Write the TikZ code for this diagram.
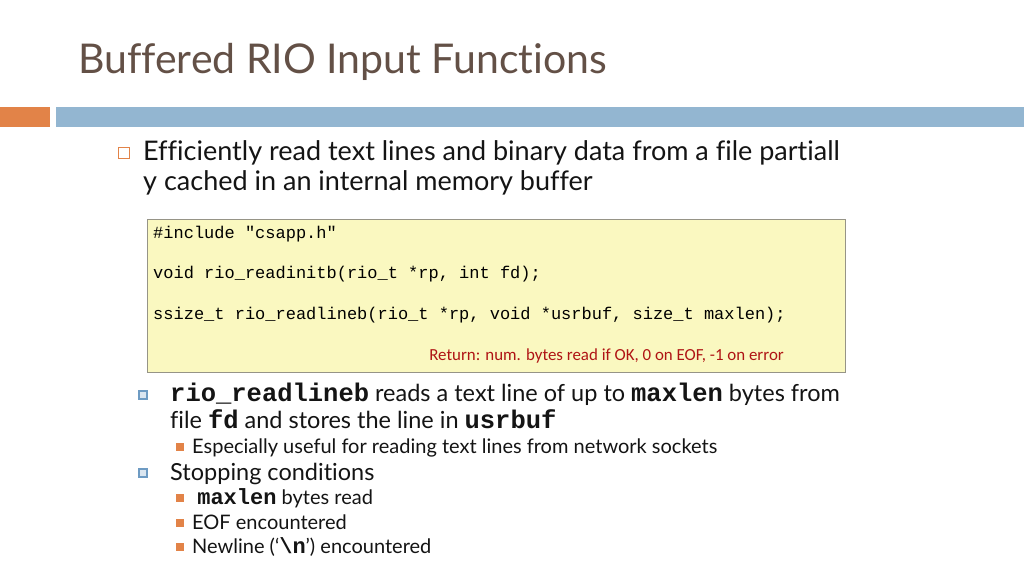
\documentclass[tikz,border=0pt]{standalone}
\usepackage{fontspec}
\setmainfont{Lato}[Ligatures={TeX,NoCommon}]
\setmonofont{Liberation Mono}
\newfontfamily\notefont{Carlito}
\definecolor{titlebrown}{RGB}{99,80,70}
\definecolor{barorange}{RGB}{226,131,72}
\definecolor{barblue}{RGB}{147,182,209}
\definecolor{bulletblue}{RGB}{110,155,195}
\definecolor{codefill}{RGB}{250,248,192}
\definecolor{codeline}{RGB}{150,148,135}
\definecolor{notered}{RGB}{175,20,20}
\definecolor{bodytext}{RGB}{20,20,20}

\begin{document}
\begin{tikzpicture}[x=1pt,y=1pt,
	toptxt/.style={anchor=base west,inner sep=0pt,text=bodytext,font=\fontsize{27}{32}\selectfont},
	txt/.style={anchor=base west,inner sep=0pt,text=bodytext,font=\fontsize{23.5}{28}\selectfont},
	subtxt/.style={anchor=base west,inner sep=0pt,text=bodytext,font=\fontsize{20}{24}\selectfont},
	code/.style={anchor=base west,inner sep=0pt,font=\ttfamily\fontsize{17}{20}\selectfont},
	hollowbullet/.style={draw=barorange,fill=white,line width=1pt,minimum size=11pt,inner sep=0pt},
	boxbullet/.style={draw=bulletblue,fill=bulletblue!25,line width=2.2pt,minimum size=8pt,inner sep=0pt},
	subbullet/.style={fill=barorange,minimum size=8pt,inner sep=0pt}
]
	\useasboundingbox[fill=white] (0,0) rectangle (1024,-576);

	% title and bars
	\node[anchor=base west,inner sep=0pt,text=titlebrown,font=\fontsize{41}{48}\selectfont] (title) at (78,-73) {Buffered RIO Input Functions};
	\fill[barorange] (0,-107) rectangle (50,-127);
	\fill[barblue] (56,-107) rectangle (1024,-127);

	% first bullet
	\node[hollowbullet] (b1) at (124,-153) {};
	\node[toptxt] (t1a) at (143,-160) {Efficiently read text lines and binary data from a file partiall};
	\node[toptxt] (t1b) at (143,-190) {y cached in an internal memory buffer};

	% code box
	\node[draw=codeline,fill=codefill,line width=1.2pt,minimum width=698pt,minimum height=153pt,anchor=north west,inner sep=0pt] (box) at (147,-219) {};
	\node[code] (c1) at (153,-238) {\#include "csapp.h"};
	\node[code] (c2) at (153,-278) {void rio\_readinitb(rio\_t *rp, int fd);};
	\node[code] (c3) at (153,-319) {ssize\_t rio\_readlineb(rio\_t *rp, void *usrbuf, size\_t maxlen);};
	\node[anchor=base east,inner sep=0pt,text=notered,font=\notefont\fontsize{16.9}{20}\selectfont] (ret) at (784,-360) {Return: num. bytes read if OK, 0 on EOF, -1 on error};

	% readlineb bullet
	\node[boxbullet] (b2) at (143,-395) {};
	\node[txt] (t2a) at (170,-401) {\textbf{\ttfamily\fontsize{25.5}{28}\selectfont rio\_readlineb} reads a text line of up to \textbf{\ttfamily\fontsize{25.5}{28}\selectfont maxlen} bytes from};
	\node[txt] (t2b) at (170,-428) {file \textbf{\ttfamily\fontsize{25.5}{28}\selectfont fd} and stores the line in \textbf{\ttfamily\fontsize{25.5}{28}\selectfont usrbuf}};
	\node[subbullet] (s1) at (180,-447) {};
	\node[subtxt] (u1) at (192,-453) {Especially useful for reading text lines from network sockets};

	% stopping conditions
	\node[boxbullet] (b3) at (143,-473) {};
	\node[txt] (t3) at (170,-480) {Stopping conditions};
	\node[subbullet] (s2) at (180,-498) {};
	\node[subtxt] (u2) at (192,-504) {\ \textbf{\ttfamily\fontsize{22}{24}\selectfont maxlen} bytes read};
	\node[subbullet] (s3) at (180,-523) {};
	\node[subtxt] (u3) at (192,-529) {EOF encountered};
	\node[subbullet] (s4) at (180,-547) {};
	\node[subtxt] (u4) at (192,-553) {Newline (‘\textbf{\ttfamily\fontsize{22}{24}\selectfont\textbackslash n}’) encountered};
\end{tikzpicture}
\end{document}
